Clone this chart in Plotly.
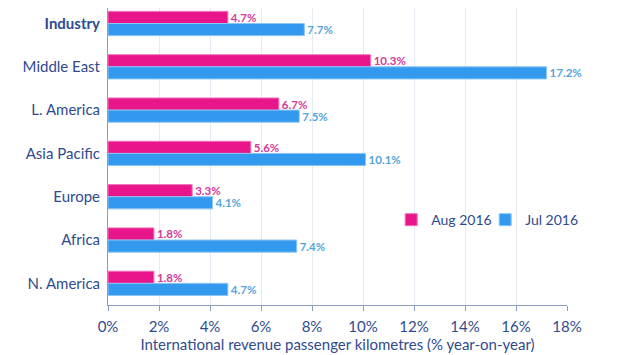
import plotly.graph_objects as go

categories = ["Industry", "Middle East", "L. America", "Asia Pacific", "Europe", "Africa", "N. America"]
tick_labels = ["<b>Industry</b>", "Middle East", "L. America", "Asia Pacific", "Europe", "Africa", "N. America"]
aug_2016 = [4.7, 10.3, 6.7, 5.6, 3.3, 1.8, 1.8]
jul_2016 = [7.7, 17.2, 7.5, 10.1, 4.1, 7.4, 4.7]
x_ticks = [0, 2, 4, 6, 8, 10, 12, 14, 16, 18]

FONT = "Lato, 'Open Sans', sans-serif"
AXIS_COLOR = "#2F4B8F"

fig = go.Figure()
fig.add_trace(go.Bar(
    y=categories, x=aug_2016, orientation="h", name="Aug 2016",
    marker=dict(color="#E8168A", line=dict(color="#F070B8", width=1)),
    text=[f"{v:.1f}%" for v in aug_2016], textposition="outside", constraintext="none",
    textfont=dict(color="#D43A9A", size=11.5, family=FONT, weight="bold"), cliponaxis=False,
))
fig.add_trace(go.Bar(
    y=categories, x=jul_2016, orientation="h", name="Jul 2016",
    marker=dict(color="#3399EE", line=dict(color="#8CC6F5", width=1)),
    text=[f"{v:.1f}%" for v in jul_2016], textposition="outside", constraintext="none",
    textfont=dict(color="#55A5DD", size=11.5, family=FONT, weight="bold"), cliponaxis=False,
))

# page has an 8px body margin, so the figure is sized/offset to compensate
fig.update_layout(
    width=612, height=347,
    margin=dict(l=100, r=53, t=0, b=50, autoexpand=False),
    paper_bgcolor="white", plot_bgcolor="white",
    barmode="group", bargap=0.44, bargroupgap=0,
    font=dict(family=FONT, color=AXIS_COLOR, size=13),
    showlegend=True,
    legend=dict(orientation="h", x=0.617, y=0.286, xanchor="left", yanchor="middle",
                font=dict(size=14, color=AXIS_COLOR), bgcolor="rgba(0,0,0,0)",
                traceorder="normal", entrywidth=49),
    xaxis=dict(range=[0, 18], tickvals=x_ticks, ticktext=[f"{t}%" for t in x_ticks],
               showgrid=True, gridcolor="#E6EAF2", gridwidth=1,
               showline=True, linecolor="#8A9CC4", linewidth=1,
               ticks="outside", ticklen=5, tickcolor="#8A9CC4", ticklabelstandoff=3,
               tickfont=dict(size=15, color=AXIS_COLOR), zeroline=False, automargin=False,
               title=dict(text="International revenue passenger kilometres (% year-on-year)",
                          font=dict(size=15, color=AXIS_COLOR), standoff=0)),
    yaxis=dict(categoryorder="array", categoryarray=categories, range=[6.5, -0.358],
               tickvals=categories, ticktext=tick_labels,
               showline=True, linecolor="#8A9CC4", linewidth=1,
               ticks="", showgrid=False, automargin=False,
               tickfont=dict(size=15, color=AXIS_COLOR), ticklabelstandoff=4),
)

fig.write_html("out.html")
